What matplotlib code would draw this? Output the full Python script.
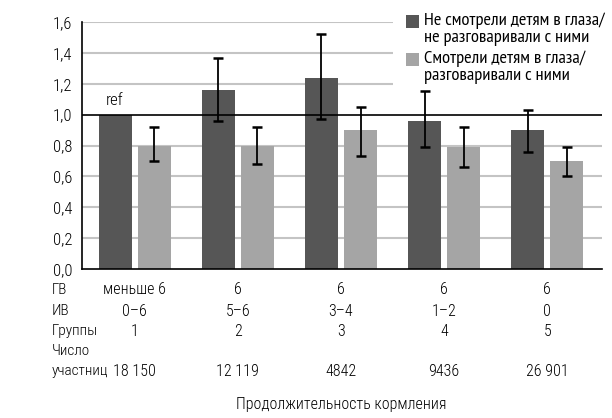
import matplotlib.pyplot as plt
from matplotlib.patches import Rectangle
import numpy as np

plt.rcParams['font.family'] = ['Roboto Condensed', 'DejaVu Sans']

# Данные
groups = ['1', '2', '3', '4', '5']
gv = ['меньше 6', '6', '6', '6', '6']
iv = ['0–6', '5–6', '3–4', '1–2', '0']
participants = ['18 150', '12 119', '4842', '9436', '26 901']

no_contact = [1.00, 1.16, 1.24, 0.96, 0.90]
no_contact_lo = [None, 0.96, 0.97, 0.79, 0.76]
no_contact_hi = [None, 1.37, 1.52, 1.15, 1.03]

contact = [0.80, 0.80, 0.90, 0.79, 0.70]
contact_lo = [0.70, 0.68, 0.73, 0.66, 0.60]
contact_hi = [0.92, 0.92, 1.05, 0.92, 0.79]

labels = ['Не смотрели детям в глаза/\nне разговаривали с ними',
          'Смотрели детям в глаза/\nразговаривали с ними']
dark = '#565656'
light = '#a5a5a5'

fig = plt.figure(figsize=(6.12, 4.18), dpi=100)
ax = fig.add_axes([82 / 612, 1 - 269 / 418, 520 / 612, 247 / 418])

x = np.arange(len(groups))
w = 0.32
off = 0.19

ax.bar(x - off, no_contact, w, color=dark, zorder=2)
ax.bar(x + off, contact, w, color=light, zorder=2)

# Доверительные интервалы
for i in range(len(x)):
    if no_contact_lo[i] is not None:
        ax.errorbar(x[i] - off, no_contact[i],
                    yerr=[[no_contact[i] - no_contact_lo[i]], [no_contact_hi[i] - no_contact[i]]],
                    fmt='none', ecolor='black', elinewidth=1.3, capsize=3.3, capthick=1.8, zorder=4)
    ax.errorbar(x[i] + off, contact[i],
                yerr=[[contact[i] - contact_lo[i]], [contact_hi[i] - contact[i]]],
                fmt='none', ecolor='black', elinewidth=1.3, capsize=3.3, capthick=1.8, zorder=4)

ax.text(x[0] - off, 1.04, 'ref', ha='center', va='bottom', fontsize=12, fontweight='light')

# Сетка
for yv in [0.2, 0.4, 0.6, 0.8, 1.2, 1.4, 1.6]:
    ax.axhline(yv, color='#c4c4c4', lw=1.5, zorder=0)
ax.axhline(1.0, color='black', lw=1.2, zorder=3)

ax.set_xlim(-0.51, 4.53)
ax.set_ylim(0, 1.6)
ax.set_xticks([])
yt = np.arange(0, 1.61, 0.2)
ax.set_yticks(yt)
ax.set_yticklabels([f'{v:.1f}'.replace('.', ',') for v in yt], fontsize=12, fontweight='light')
ax.tick_params(axis='y', length=0, pad=7)
for s in ['top', 'right']:
    ax.spines[s].set_visible(False)
ax.spines['left'].set_linewidth(1.2)
ax.spines['bottom'].set_linewidth(1.2)

# Легенда
ax.add_patch(Rectangle((393 / 612, 1 - 92 / 418), 215 / 612, 88 / 418,
                       transform=fig.transFigure, facecolor='white', edgecolor='none', zorder=1))
leg_y = [21, 59]
for k, (lab, col) in enumerate(zip(labels, [dark, light])):
    yy = leg_y[k]
    fig.patches.append(Rectangle((406 / 612, 1 - (yy + 7) / 418), 13 / 612, 13 / 418,
                                 transform=fig.transFigure, facecolor=col, edgecolor='none'))
    for j, line in enumerate(lab.split('\n')):
        fig.text(424 / 612, 1 - (yy + j * 17) / 418, line, ha='left', va='center',
                 fontsize=13.3, family=['PT Sans Narrow', 'DejaVu Sans'])


def col_x(i):
    return ax.transData.transform((x[i], 0))[0] / fig.bbox.width


# Таблица под графиком
fs = 11
rows = [('ГВ', gv, 290), ('ИВ', iv, 311), ('Группы', groups, 331)]
for name, vals, yy in rows:
    fig.text(52 / 612, 1 - yy / 418, name, ha='left', va='center', fontsize=fs, fontweight='light')
    for i, v in enumerate(vals):
        fig.text(col_x(i), 1 - yy / 418, v, ha='center', va='center', fontsize=11.5, fontweight='light')
fig.text(52 / 612, 1 - 351 / 418, 'Число', ha='left', va='center', fontsize=fs, fontweight='light')
fig.text(52 / 612, 1 - 371 / 418, 'участниц', ha='left', va='center', fontsize=fs, fontweight='light')
for i, v in enumerate(participants):
    fig.text(col_x(i), 1 - 371 / 418, v, ha='center', va='center', fontsize=11.5, fontweight='light')

fig.text(col_x(2), 1 - 404 / 418, 'Продолжительность кормления',
         ha='center', va='center', fontsize=11.5, fontweight='light')

fig.savefig('out.png', dpi=100)
